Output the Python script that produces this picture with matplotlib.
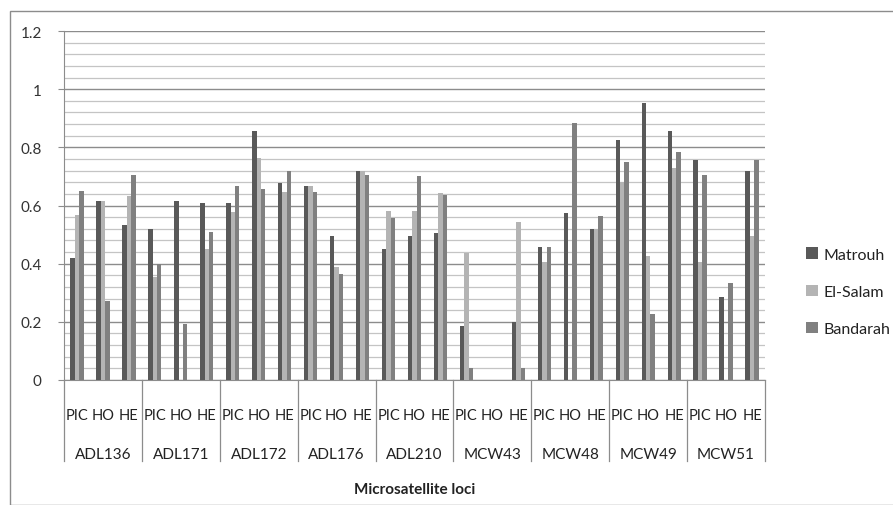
import matplotlib
matplotlib.use("Agg")
import matplotlib.pyplot as plt
import numpy as np
from matplotlib.patches import Rectangle

plt.rcParams['font.family'] = ['Lato', 'DejaVu Sans']

loci = ["ADL136", "ADL171", "ADL172", "ADL176", "ADL210", "MCW43", "MCW48", "MCW49", "MCW51"]
stats = ["PIC", "HO", "HE"]
series_names = ["Matrouh", "El-Salam", "Bandarah"]

# values ordered: for each locus, PIC, HO, HE
matrouh = [0.42, 0.617, 0.533,
           0.519, 0.617, 0.61,
           0.607, 0.857, 0.676,
           0.668, 0.496, 0.72,
           0.45, 0.496, 0.507,
           0.187, 0.0, 0.20,
           0.458, 0.575, 0.52,
           0.826, 0.954, 0.857,
           0.758, 0.287, 0.72]
el_salam = [0.568, 0.617, 0.634,
            0.354, 0.0, 0.45,
            0.579, 0.762, 0.648,
            0.668, 0.39, 0.72,
            0.58, 0.58, 0.643,
            0.436, 0.0, 0.544,
            0.407, 0.0, 0.52,
            0.68, 0.428, 0.728,
            0.407, 0.0, 0.494]
bandarah = [0.65, 0.27, 0.706,
            0.40, 0.193, 0.508,
            0.668, 0.657, 0.72,
            0.648, 0.364, 0.706,
            0.557, 0.70, 0.637,
            0.04, 0.0, 0.041,
            0.458, 0.885, 0.563,
            0.749, 0.227, 0.785,
            0.706, 0.333, 0.758]

colors = ["#595959", "#b4b4b4", "#808080"]

fig = plt.figure(figsize=(8.93, 5.06), dpi=100)
ax = fig.add_axes([64/893, 1-381/506, (765-64)/893, (381-32)/506])

n = len(loci) * len(stats)
x = np.arange(n) + 0.5
w = 0.17
for k, (vals, col, name) in enumerate(zip([matrouh, el_salam, bandarah], colors, series_names)):
    ax.bar(x + (k-1)*w, vals, width=w, color=col, label=name, zorder=3, linewidth=0)

ax.set_xlim(0, n)
ax.set_ylim(0, 1.2)
ax.set_yticks(np.arange(0, 1.21, 0.2))
ax.set_yticklabels(["0", "0.2", "0.4", "0.6", "0.8", "1", "1.2"], fontsize=11, color="#333333")
ax.set_yticks(np.arange(0, 1.2001, 0.04), minor=True)
ax.grid(axis='y', which='minor', color='#c4c4c4', linewidth=0.9, zorder=0)
ax.grid(axis='y', which='major', color='#8c8c8c', linewidth=1.0, zorder=1)
ax.tick_params(axis='y', which='major', length=4, color='#8c8c8c', pad=12)
ax.tick_params(axis='y', which='minor', length=0)

ax.set_xticks(x)
ax.set_xticklabels(stats * len(loci), fontsize=10.5, color="#222222")
ax.tick_params(axis='x', length=0, pad=20)

for s in ['top', 'right']:
    ax.spines[s].set_visible(False)
ax.spines['left'].set_color('#8c8c8c')
ax.spines['bottom'].set_color('#8c8c8c')

trans = ax.get_xaxis_transform()
for i in range(len(loci) + 1):
    ax.plot([i*3, i*3], [0, -0.232], transform=trans, color='#8c8c8c', linewidth=0.9, clip_on=False)
for i, name in enumerate(loci):
    ax.text(i*3 + 1.5, -0.212, name, transform=trans, ha='center', va='center', fontsize=11, color='#222222')

fig.text(414.5/893, 1-490/506, "Microsatellite loci", ha='center', va='center', fontsize=11, fontweight='bold', color='#222222')

leg = fig.legend(loc='upper left', bbox_to_anchor=(792/893, 1-234/506), frameon=False, fontsize=11.5,
                 handlelength=0.7, handleheight=0.7, handletextpad=0.4, labelspacing=1.45)
for t in leg.get_texts():
    t.set_color('#222222')

fig.patches.append(Rectangle((10/893, 0.0), 1.0, 1-12/506, transform=fig.transFigure, fill=False,
                             edgecolor='#8c8c8c', linewidth=1.0))

fig.savefig("out.png", dpi=100)
